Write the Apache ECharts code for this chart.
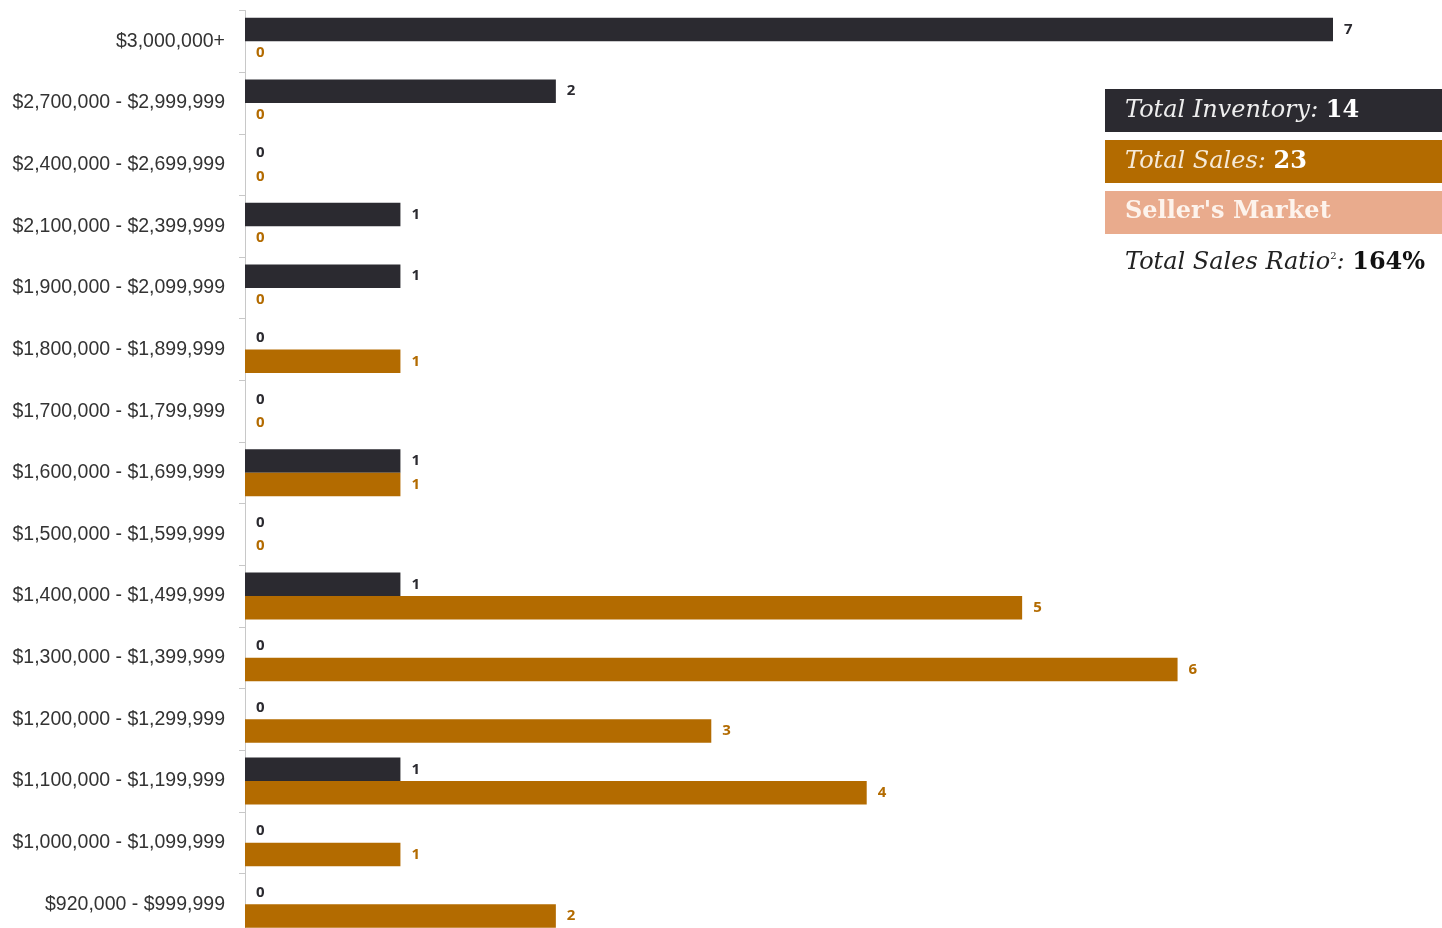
<!DOCTYPE html>
<html>
<head>
<meta charset="utf-8">
<script src="https://cdn.jsdelivr.net/npm/echarts@6/dist/echarts.min.js"></script>
<style>
html,body{margin:0;padding:0;background:#fff;}
#chart{width:1442px;height:928px;}
</style>
</head>
<body>
<div id="chart"></div>
<script>
const categories = [
  '$3,000,000+',
  '$2,700,000 - $2,999,999',
  '$2,400,000 - $2,699,999',
  '$2,100,000 - $2,399,999',
  '$1,900,000 - $2,099,999',
  '$1,800,000 - $1,899,999',
  '$1,700,000 - $1,799,999',
  '$1,600,000 - $1,699,999',
  '$1,500,000 - $1,599,999',
  '$1,400,000 - $1,499,999',
  '$1,300,000 - $1,399,999',
  '$1,200,000 - $1,299,999',
  '$1,100,000 - $1,199,999',
  '$1,000,000 - $1,099,999',
  '$920,000 - $999,999'
];
const inventory = [7, 2, 0, 1, 1, 0, 0, 1, 0, 1, 0, 0, 1, 0, 0];
const sales     = [0, 0, 0, 0, 0, 1, 0, 1, 0, 5, 6, 3, 4, 1, 2];
const totalInventory = '14';
const totalSales = '23';
const marketLabel = "Seller's Market";
const totalSalesRatio = '164%';

const DARK = '#2b2a30';
const ORANGE = '#b36b00';
const PEACH = '#e9ab8d';

const chart = echarts.init(document.getElementById('chart'));
const serif = '"DejaVu Serif", "Liberation Serif", serif';
const FS = 24;
chart.setOption({
  animation: false,
  grid: { left: 245, width: 1088, top: 10.5, height: 924.6, containLabel: false, outerBoundsMode: 'none' },
  xAxis: { type: 'value', min: 0, max: 7, show: false },
  yAxis: {
    type: 'category',
    inverse: true,
    data: categories,
    axisLine: { show: true, lineStyle: { color: '#c8c8c8', width: 1 } },
    axisTick: { show: true, length: 6, lineStyle: { color: '#c8c8c8' } },
    axisLabel: { color: '#333', fontSize: 19.5, fontFamily: '"Liberation Sans", Arial, sans-serif', margin: 20 }
  },
  series: [
    {
      name: 'Inventory', type: 'bar', data: inventory,
      barWidth: 23.5, barGap: '0%',
      itemStyle: { color: DARK },
      label: { show: true, position: 'right', distance: 11, color: DARK, fontWeight: 'bold', fontSize: 15, fontFamily: '"Open Sans", sans-serif' }
    },
    {
      name: 'Sales', type: 'bar', data: sales,
      barWidth: 23.5, barGap: '0%',
      itemStyle: { color: ORANGE },
      label: { show: true, position: 'right', distance: 11, color: ORANGE, fontWeight: 'bold', fontSize: 15, fontFamily: '"Open Sans", sans-serif' }
    }
  ],
  graphic: [
    { type: 'rect', shape: { x: 1105, y: 89, width: 337, height: 43 }, style: { fill: DARK } },
    { type: 'rect', shape: { x: 1105, y: 140, width: 337, height: 43 }, style: { fill: ORANGE } },
    { type: 'rect', shape: { x: 1105, y: 191, width: 337, height: 43 }, style: { fill: PEACH } },
    { type: 'text', x: 1125, y: 111, style: {
        text: '{a|Total Inventory: }{b|' + totalInventory + '}', verticalAlign: 'middle',
        rich: { a: { fontFamily: serif, fontStyle: 'italic', fontSize: FS, fill: '#eeeeee' },
                b: { fontFamily: serif, fontWeight: 'bold', fontSize: FS, fill: '#ffffff' } } } },
    { type: 'text', x: 1125, y: 162, style: {
        text: '{a|Total Sales: }{b|' + totalSales + '}', verticalAlign: 'middle',
        rich: { a: { fontFamily: serif, fontStyle: 'italic', fontSize: FS, fill: '#f6ead8' },
                b: { fontFamily: serif, fontWeight: 'bold', fontSize: FS, fill: '#ffffff' } } } },
    { type: 'text', x: 1125, y: 212, style: {
        text: marketLabel, verticalAlign: 'middle',
        fontFamily: serif, fontWeight: 'bold', fontSize: FS, fill: '#fdf3ec' } },
    { type: 'text', x: 1125, y: 263, style: {
        text: '{a|Total Sales Ratio}{s|2}{a|: }{b|' + totalSalesRatio + '}', verticalAlign: 'middle',
        rich: { a: { fontFamily: serif, fontStyle: 'italic', fontSize: FS, fill: '#222' },
                s: { fontFamily: serif, fontSize: 10, fill: '#222', verticalAlign: 'top', padding: [0,0,14,0] },
                b: { fontFamily: serif, fontWeight: 'bold', fontSize: FS, fill: '#111' } } } }
  ]
});
</script>
</body>
</html>
